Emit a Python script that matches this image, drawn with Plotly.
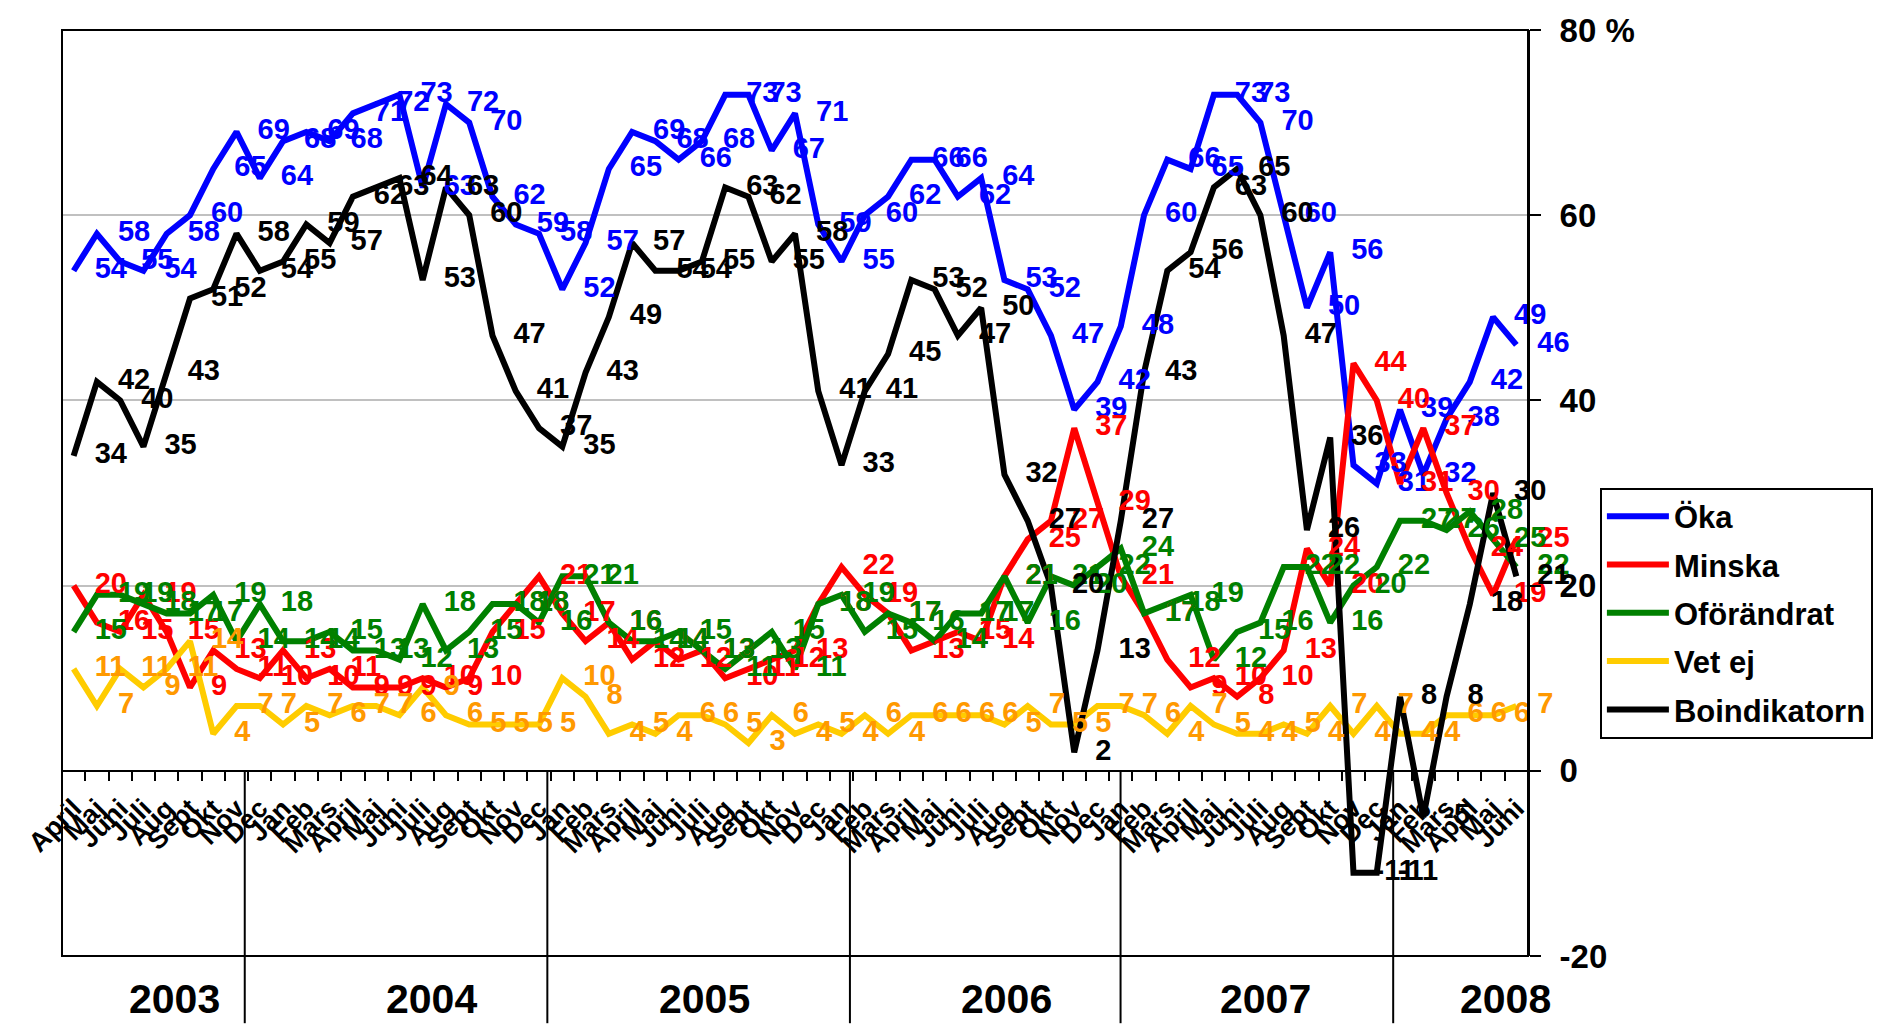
import plotly.graph_objects as go

# ---------------- data ----------------
months_2003 = ["April", "Maj", "Juni", "Juli", "Aug", "Sept", "Okt", "Nov", "Dec"]
months_full = ["Jan", "Feb", "Mars", "April", "Maj", "Juni", "Juli", "Aug", "Sept", "Okt", "Nov", "Dec"]
months_2008 = ["Jan", "Feb", "Mars", "April", "Maj", "Juni"]
month_labels = months_2003 + months_full * 4 + months_2008

years = ["2003", "2004", "2005", "2006", "2007", "2008"]

oka = [54, 58, 55, 54, 58, 60, 65, 69, 64, 68,
       69, 68, 71, 72, 73, 63, 72, 70, 62, 59,
       58, 52, 57, 65, 69, 68, 66, 68, 73, 73,
       67, 71, 59, 55, 60, 62, 66, 66, 62, 64,
       53, 52, 47, 39, 42, 48, 60, 66, 65, 73,
       73, 70, 60, 50, 56, 33, 31, 39, 32, 38,
       42, 49, 46]
minska = [20, 16, 15, 19, 15, 9, 13, 11, 10, 13,
          10, 11, 9, 9, 9, 10, 9, 10, 15, 18,
          21, 17, 14, 16, 12, 14, 12, 13, 10, 11,
          12, 13, 18, 22, 19, 17, 13, 14, 15, 14,
          21, 25, 27, 37, 29, 21, 17, 12, 9, 10,
          8, 10, 13, 24, 20, 44, 40, 31, 37, 30,
          24, 19, 25]
oforandrat = [15, 19, 19, 18, 17, 17, 19, 14, 18, 14,
              14, 15, 13, 13, 12, 18, 13, 15, 18, 18,
              16, 21, 21, 16, 14, 14, 15, 13, 11, 13,
              15, 11, 18, 19, 15, 17, 16, 14, 17, 17,
              21, 16, 21, 20, 22, 24, 17, 18, 19, 12,
              15, 16, 22, 22, 16, 20, 22, 27, 27, 26,
              28, 25, 22]
vet_ej = [11, 7, 11, 9, 11, 14, 4, 7, 7, 5,
          7, 6, 7, 7, 6, 9, 6, 5, 5, 5,
          5, 10, 8, 4, 5, 4, 6, 6, 5, 3,
          6, 4, 5, 4, 6, 4, 6, 6, 6, 6,
          5, 7, 5, 5, 7, 7, 6, 4, 7, 5,
          4, 4, 5, 4, 7, 4, 7, 4, 4, 6,
          6, 6, 7]
boindikatorn = [34, 42, 40, 35, 43, 51, 52, 58, 54, 55,
                59, 57, 62, 63, 64, 53, 63, 60, 47, 41,
                37, 35, 43, 49, 57, 54, 54, 55, 63, 62,
                55, 58, 41, 33, 41, 45, 53, 52, 47, 50,
                32, 27, 20, 2, 13, 27, 43, 54, 56, 63,
                65, 60, 47, 26, 36, -11, -11, 8, -5, 8,
                18, 30, 21]

y_ticks = [-20, 0, 20, 40, 60, 80]
y_ticktext = ["-20", "0", "20", "40", "60", "80 %"]

series = [
    ("Öka", oka, "#0000FF", "#0000FF"),
    ("Minska", minska, "#FF0000", "#FF0000"),
    ("Oförändrat", oforandrat, "#008000", "#008000"),
    ("Vet ej", vet_ej, "#FFCC00", "#FF9900"),
    ("Boindikatorn", boindikatorn, "#000000", "#000000"),
]

FONT = "Liberation Sans, Arial, sans-serif"
x = list(range(len(month_labels)))

fig = go.Figure()

# lines
for name, vals, lc, tc in series:
    fig.add_trace(go.Scatter(
        x=x, y=vals, name=name, mode="lines",
        line=dict(color=lc, width=6),
        legendgroup=name, hoverinfo="skip", cliponaxis=False,
    ))

# data labels (drawn above all lines)
for name, vals, lc, tc in series:
    fig.add_trace(go.Scatter(
        x=x, y=vals, mode="markers+text", showlegend=False,
        text=[str(v) for v in vals], textposition="middle right",
        textfont=dict(family=FONT, size=29, color=tc, weight="bold"),
        marker=dict(size=32, color="rgba(0,0,0,0)"),
        hoverinfo="skip", cliponaxis=False,
    ))

# ---------------- layout ----------------
L, R, T, B = 62, 355, 19, 68
W, H = 1885, 1024
pw, ph = W - L - R, H - T - B

def px_x(px):
    return (px - L) / pw

def px_y(py):
    return (H - B - py) / ph

shapes = [
    dict(type="rect", xref="paper", yref="paper", x0=0, x1=1, y0=0, y1=1,
         line=dict(color="black", width=2), layer="above"),
]
divider_px = [245, 548, 851, 1122, 1395]
for dx in divider_px:
    shapes.append(dict(type="line", xref="paper", yref="paper",
                       x0=px_x(dx), x1=px_x(dx), y0=0.2, y1=px_y(H),
                       line=dict(color="black", width=2), layer="above"))

year_px = [175, 432, 705, 1008, 1267, 1507]
annotations = []
for yr, xp in zip(years, year_px):
    annotations.append(dict(text=yr, xref="paper", yref="paper",
                            x=px_x(xp), y=px_y(1000), showarrow=False,
                            xanchor="center", yanchor="middle",
                            font=dict(family=FONT, size=41, color="black", weight="bold")))

fig.update_layout(
    width=W, height=H,
    margin=dict(l=L, r=R, t=T, b=B, pad=0),
    paper_bgcolor="white", plot_bgcolor="white",
    font=dict(family=FONT, color="black"),
    shapes=shapes, annotations=annotations,
    showlegend=True,
    legend=dict(
        x=px_x(1602), y=px_y(482), xanchor="left", yanchor="top",
        bordercolor="black", borderwidth=2, bgcolor="white",
        font=dict(family=FONT, size=31, color="black", weight="bold"),
        tracegroupgap=5, itemwidth=62,
    ),
    xaxis=dict(
        range=[-0.5, len(month_labels) - 0.5],
        anchor="free", position=0.2,
        tickmode="array", tickvals=x, ticktext=month_labels,
        tickangle=-45, ticks="",
        tickfont=dict(family=FONT, size=27, color="black", weight="bold"),
        ticklabelstandoff=10,
        showline=True, linecolor="black", linewidth=2,
        showgrid=False, zeroline=False,
        minor=dict(tickvals=[i + 0.5 for i in x[:-1]], ticks="outside",
                   ticklen=9, tickcolor="black", tickwidth=2, showgrid=False),
    ),
    yaxis=dict(
        range=[-20, 80], side="right",
        tickmode="array", tickvals=y_ticks, ticktext=y_ticktext,
        ticks="outside", ticklen=11, tickcolor="black", tickwidth=2,
        tickfont=dict(family=FONT, size=33, color="black", weight="bold"),
        ticklabelstandoff=12,
        showline=True, linecolor="black", linewidth=2,
        showgrid=True, gridcolor="#C0C0C0", gridwidth=2,
        zeroline=False,
    ),
)

fig.write_html("out.html", config={"displayModeBar": False},
               post_script="document.body.style.margin='0';document.body.style.overflow='hidden';")
